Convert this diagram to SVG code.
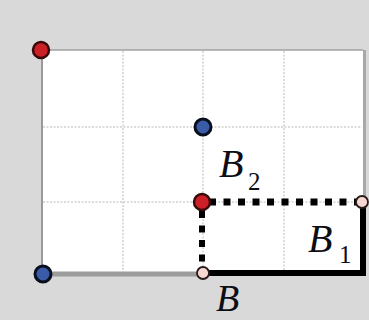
<svg xmlns="http://www.w3.org/2000/svg" width="369" height="320" viewBox="0 0 369 320">
<style>
.grid{stroke:#b8b8b8;stroke-width:1;stroke-dasharray:2 1.5;fill:none}
.lbl{font-family:'Liberation Serif','DejaVu Serif',serif;font-style:italic;fill:#0d0d14}
.sub{font-family:'Liberation Serif','DejaVu Serif',serif;fill:#0d0d14}
.red{fill:#cc2026;stroke:#3a0a0a;stroke-width:2.5}
.blue{fill:#3a5ca8;stroke:#0a0f1e;stroke-width:3}
.pink{fill:#f6d8d2;stroke:#2a1a1a;stroke-width:1.8}
</style>
<rect x="0" y="0" width="369" height="320" fill="#d9d9d9"/>
<rect x="362" y="50" width="4" height="224" fill="#a8a8a8"/>
<rect x="42" y="50" width="321" height="223" fill="#ffffff"/>
<line x1="42" y1="50" x2="363" y2="50" stroke="#a0a0a0" stroke-width="1.5"/>
<line x1="42" y1="50" x2="42" y2="274" stroke="#9a9a9a" stroke-width="2"/>
<g id="grid">
<line class="grid" x1="123" y1="51" x2="123" y2="272"/>
<line class="grid" x1="203" y1="51" x2="203" y2="272"/>
<line class="grid" x1="284" y1="51" x2="284" y2="272"/>
<line class="grid" x1="43" y1="127" x2="362" y2="127"/>
<line class="grid" x1="43" y1="202" x2="362" y2="202"/>
</g>
<g id="connectors">
<line x1="42" y1="274" x2="203" y2="274" stroke="#9c9c9c" stroke-width="5"/>
<polyline points="203,273 363,273 363,202" fill="none" stroke="#000" stroke-width="6" stroke-linejoin="miter"/>
<line x1="209" y1="202" x2="357" y2="202" stroke="#000" stroke-width="7" stroke-dasharray="7 7.5"/>
<line x1="202" y1="211" x2="202" y2="266" stroke="#000" stroke-width="6" stroke-dasharray="7 7.5"/>
</g>
<g id="p_topleft"><circle class="red" cx="41" cy="50" r="8"/></g>
<g id="p_bottomleft"><circle class="blue" cx="43" cy="274" r="8"/></g>
<g id="p_mid"><circle class="blue" cx="203" cy="127" r="8"/></g>
<g id="B2"><circle class="red" cx="202" cy="202" r="8"/>
<text class="lbl" x="219" y="177" font-size="40">B</text><text class="sub" x="248" y="190" font-size="25">2</text></g>
<g id="B1"><circle class="pink" cx="362" cy="202" r="6"/>
<text class="lbl" x="308" y="252" font-size="40">B</text><text class="sub" x="339" y="263" font-size="25">1</text></g>
<g id="B"><circle class="pink" cx="203" cy="273" r="6"/>
<text class="lbl" x="216" y="311" font-size="38">B</text></g>
</svg>
